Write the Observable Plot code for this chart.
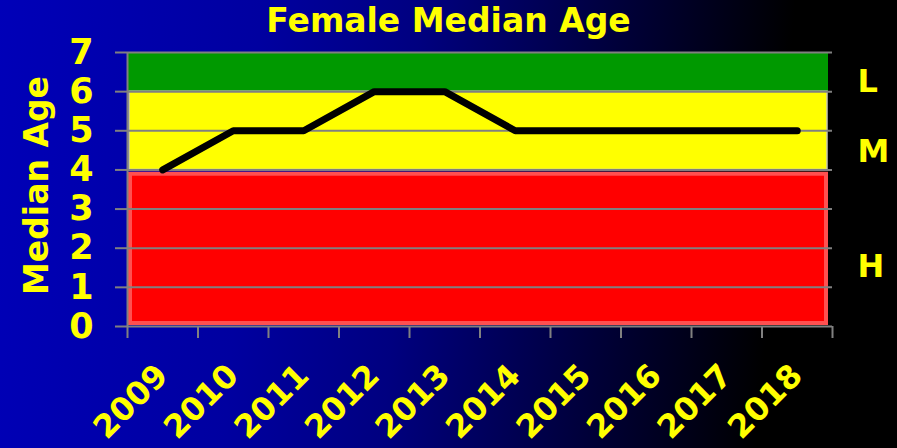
<!DOCTYPE html>
<html><head><meta charset="utf-8">
<script src="https://cdn.jsdelivr.net/npm/d3@7"></script>
<script src="https://cdn.jsdelivr.net/npm/@observablehq/plot@0.6"></script>
<style>
html,body{margin:0;padding:0;background:#000;}
#root{width:897px;height:448px;overflow:hidden;background:linear-gradient(95deg,#0000b8 0%,#0000a0 28%,#000080 45%,#000038 67%,#000000 85%);}
#title{height:36px;box-sizing:border-box;padding-top:6px;line-height:30px;text-align:center;color:#ffff00;font-family:"DejaVu Sans";font-weight:bold;font-size:33px;white-space:nowrap;}
#chart svg{display:block;}
</style></head><body>
<div id="root"><div id="title">Female Median Age</div><div id="chart"></div></div>
<script>
const years = [2009, 2010, 2011, 2012, 2013, 2014, 2015, 2016, 2017, 2018];
const values = [4, 5, 5, 6, 6, 5, 5, 5, 5, 5];
const bandNames = ["L", "M", "H"];
const bandLow = [6, 4, 0];
const bandHigh = [7, 6, 4];
const bandLabelAt = [6.25, 4.47, 1.52];
const yTicks = [0, 1, 2, 3, 4, 5, 6, 7];

const data = years.map((y, i) => ({year: y, value: values[i]}));
const bands = bandNames.map((n, i) => ({name: n, lo: bandLow[i], hi: bandHigh[i], at: bandLabelAt[i]}));
const x0 = years[0] - 0.5, x1 = years[years.length - 1] + 0.5;
const boundaries = d3.range(years.length + 1).map(i => x0 + i);

const plot = Plot.plot({
  width: 897, height: 412,
  marginTop: 16, marginBottom: 122, marginLeft: 127, marginRight: 65,
  style: {background: "transparent", overflow: "visible", fontFamily: "DejaVu Sans", fontWeight: "bold", color: "#ffff00"},
  x: {type: "linear", domain: [x0, x1], axis: null, label: null},
  y: {domain: [0, 7], axis: null, label: null},
  marks: [
    Plot.rect([bands[0]], {x1: () => x0, x2: () => x1, y1: "lo", y2: "hi", fill: "#009900", insetLeft: 1, insetRight: 4}),
    Plot.rect([bands[1]], {x1: () => x0, x2: () => x1, y1: "lo", y2: "hi", fill: "#ffff00", stroke: "#c8c8b0", strokeWidth: 1.5, insetLeft: 2, insetRight: 5}),
    Plot.rect([bands[2]], {x1: () => x0, x2: () => x1, y1: "lo", y2: "hi", fill: "#ff0000", stroke: "#ff5050", strokeWidth: 4, insetLeft: 3, insetRight: 6, insetTop: 4.3, insetBottom: 3}),
    Plot.gridY(yTicks, {stroke: "#808080", strokeOpacity: 1, strokeWidth: 2}),
    Plot.ruleX([x0], {y1: 0, y2: 7, stroke: "#808080", strokeWidth: 2}),
    Plot.axisX(boundaries, {tickSize: 12, tickFormat: () => "", label: null, stroke: "#808080", strokeWidth: 2, strokeOpacity: 1}),
    Plot.axisY(yTicks, {tickSize: 12, tickPadding: 22, fontSize: 35, label: null, fill: "#ffff00", stroke: "#808080", strokeWidth: 2, strokeOpacity: 1}),
    Plot.line(data, {x: "year", y: "value", stroke: "#000000", strokeWidth: 7, strokeLinecap: "round", strokeLinejoin: "round"}),
    Plot.text(years, {x: d => d, text: d => String(d), frameAnchor: "bottom", rotate: -45, textAnchor: "end", lineAnchor: "bottom", dx: 7, dy: 51, fontSize: 32, fill: "#ffff00"}),
    Plot.text(["Median Age"], {frameAnchor: "left", textAnchor: "middle", rotate: -90, lineAnchor: "bottom", dx: -80, dy: -4, fontSize: 33, fill: "#ffff00"}),
    Plot.text(bands, {y: "at", text: "name", frameAnchor: "right", textAnchor: "start", dx: 25, fontSize: 32, fill: "#ffff00"})
  ]
});
document.getElementById("chart").appendChild(plot);
</script>
</body></html>
